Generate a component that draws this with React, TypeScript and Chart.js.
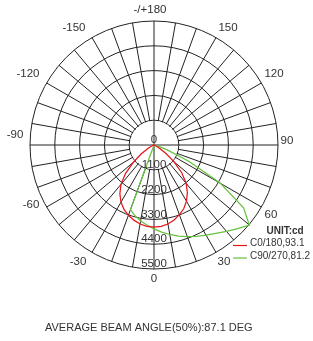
import React, { useEffect, useRef } from "react";
import { Chart, registerables } from "chart.js";

Chart.register(...registerables);

// Gamma angles (deg) of the lower hemisphere: negative = left half-plane, positive = right half-plane
const GAMMA = [-90, -85, -80, -75, -70, -65, -60, -55, -50, -45, -40, -35, -30, -25, -20, -15, -10, -5, 0, 5, 10, 15, 20, 25, 30, 35, 40, 45, 50, 55, 60, 65, 70, 75, 80, 85, 90];

// Luminous intensity (cd)
const C0_180 = [0, 0, 0, 10, 40, 130, 330, 700, 1200, 1780, 2280, 2640, 2930, 3150, 3320, 3450, 3560, 3620, 3640, 3620, 3560, 3440, 3290, 3120, 2880, 2580, 2220, 1740, 1150, 620, 280, 100, 30, 0, 0, 0, 0];
const C90_270 = [0, 0, 0, 0, 0, 0, 0, 0, 0, 0, 0, 0, 0, 0, 3050, 3250, 3420, 3560, 3720, 3880, 4030, 4180, 4330, 4470, 4620, 4780, 5000, 5250, 5520, 4850, 3400, 1700, 600, 150, 30, 0, 0];

// Radial rings and angle labels
const RING_VALUES = [0, 1100, 2200, 3300, 4400, 5500];
const ANGLE_LABELS = [180, 150, 120, 90, 60, 30, 0, -30, -60, -90, -120, -150];

const SERIES_NAMES = ["C0/180,93.1", "C90/270,81.2"];
const UNIT_TEXT = "UNIT:cd";
const FOOTER_TEXT = "AVERAGE BEAM ANGLE(50%):87.1 DEG";

const RED = "#e8141c";
const GREEN = "#66c23f";
const GRID = "#222222";
const TEXT = "#333333";
const FONT = '"Liberation Sans", Arial, Helvetica, sans-serif';

// Angular positions of the radar categories, 5 deg apart, clockwise from the top (180)
const STEP = 5;
const CATEGORIES = Array.from({ length: 360 / STEP }, (_, i) => 180 - STEP * i);

function sample(series: number[]) {
  return CATEGORIES.map((a) => {
    const k = GAMMA.indexOf(a);
    return k >= 0 ? series[k] : 0;
  });
}

// label placement offsets (px) around the outer ring, relative to the scale centre
const LABEL_OFFSETS: Record<string, [number, number]> = {
  "180": [-4, -135],
  "150": [74, -117],
  "120": [120, -71],
  "90": [133, -4],
  "60": [117, 70],
  "30": [70, 116.5],
  "0": [0, 134],
  "-30": [-76, 116.5],
  "-60": [-123, 60],
  "-90": [-139, -10],
  "-120": [-126, -71],
  "-150": [-80, -117],
};

const polarDecor = {
  id: "polarDecor",
  beforeDatasetsDraw(chart: any) {
    const s = chart.scales.r;
    const ctx = chart.ctx;
    const r1 = s.getDistanceFromCenterForValue(RING_VALUES[1]);
    ctx.save();
    ctx.beginPath();
    ctx.arc(s.xCenter, s.yCenter, r1 - 0.6, 0, Math.PI * 2);
    ctx.fillStyle = "#ffffff";
    ctx.fill();
    ctx.strokeStyle = GRID;
    ctx.lineWidth = 1;
    const quarter = CATEGORIES.length / 4;
    [0, quarter].forEach((i) => {
      const p = s.getPointPosition(i, r1);
      const q = s.getPointPosition(i + 2 * quarter, r1);
      ctx.beginPath();
      ctx.moveTo(p.x, p.y);
      ctx.lineTo(q.x, q.y);
      ctx.stroke();
    });
    ctx.restore();
  },
  afterDraw(chart: any) {
    const s = chart.scales.r;
    const ctx = chart.ctx;
    ctx.save();
    ctx.fillStyle = TEXT;
    ctx.textBaseline = "middle";
    ctx.textAlign = "center";
    ctx.font = `11.5px ${FONT}`;
    // radial values along the 0 direction
    RING_VALUES.forEach((v) => {
      const d = s.getDistanceFromCenterForValue(v);
      ctx.fillText(String(v), s.xCenter, s.yCenter + d - 5);
    });
    // angle labels
    ANGLE_LABELS.forEach((a) => {
      const off = LABEL_OFFSETS[String(a)];
      const text = a === 180 ? "-/+180" : String(a);
      ctx.fillText(text, s.xCenter + off[0], s.yCenter + off[1]);
    });
    // legend
    const lx = s.xCenter + 79;
    const ly = s.yCenter + 86;
    ctx.textAlign = "left";
    ctx.font = `bold 10px ${FONT}`;
    ctx.fillText(UNIT_TEXT, lx + 33.5, ly);
    ctx.font = `10px ${FONT}`;
    [RED, GREEN].forEach((c, i) => {
      const y = ly + 12.5 + i * 12.5;
      ctx.strokeStyle = c;
      ctx.lineWidth = 1.2;
      ctx.beginPath();
      ctx.moveTo(lx, y + 2);
      ctx.lineTo(lx + 14, y + 2);
      ctx.stroke();
      ctx.fillText(SERIES_NAMES[i], lx + 17, y);
    });
    // footer
    ctx.font = `11px ${FONT}`;
    ctx.fillText(FOOTER_TEXT, 45, 328);
    ctx.restore();
  },
};

export default function App() {
  const ref = useRef<HTMLCanvasElement | null>(null);
  useEffect(() => {
    if (!ref.current) return;
    const chart = new Chart(ref.current, {
      type: "radar",
      data: {
        labels: CATEGORIES.map(String),
        datasets: [
          {
            label: SERIES_NAMES[0],
            data: sample(C0_180),
            borderColor: RED,
            borderWidth: 1.25,
            pointRadius: 0,
            fill: false,
            tension: 0,
          },
          {
            label: SERIES_NAMES[1],
            data: sample(C90_270),
            borderColor: GREEN,
            borderWidth: 1.25,
            pointRadius: 0,
            fill: false,
            tension: 0,
          },
        ],
      },
      options: {
        responsive: false,
        animation: false,
        devicePixelRatio: 1,
        layout: { padding: { left: 30, right: 35, top: 21, bottom: 71 } },
        plugins: { legend: { display: false }, tooltip: { enabled: false } },
        scales: {
          r: {
            min: RING_VALUES[0],
            max: RING_VALUES[RING_VALUES.length - 1],
            ticks: { display: false, stepSize: RING_VALUES[1] - RING_VALUES[0] },
            pointLabels: { display: false },
            grid: { circular: true, color: GRID, lineWidth: 1 },
            angleLines: {
              display: true,
              color: (c: any) => (c.index % 2 === 0 ? GRID : "rgba(0,0,0,0)"),
              lineWidth: (c: any) => (c.index % 2 === 0 ? 1 : 0),
            },
          },
        },
      },
      plugins: [polarDecor],
    } as any);
    return () => chart.destroy();
  }, []);
  return (
    <div style={{ position: "absolute", left: 0, top: 0, width: 313, height: 341, background: "#fff" }}>
      <canvas ref={ref} width={313} height={341} style={{ display: "block" }} />
    </div>
  );
}
